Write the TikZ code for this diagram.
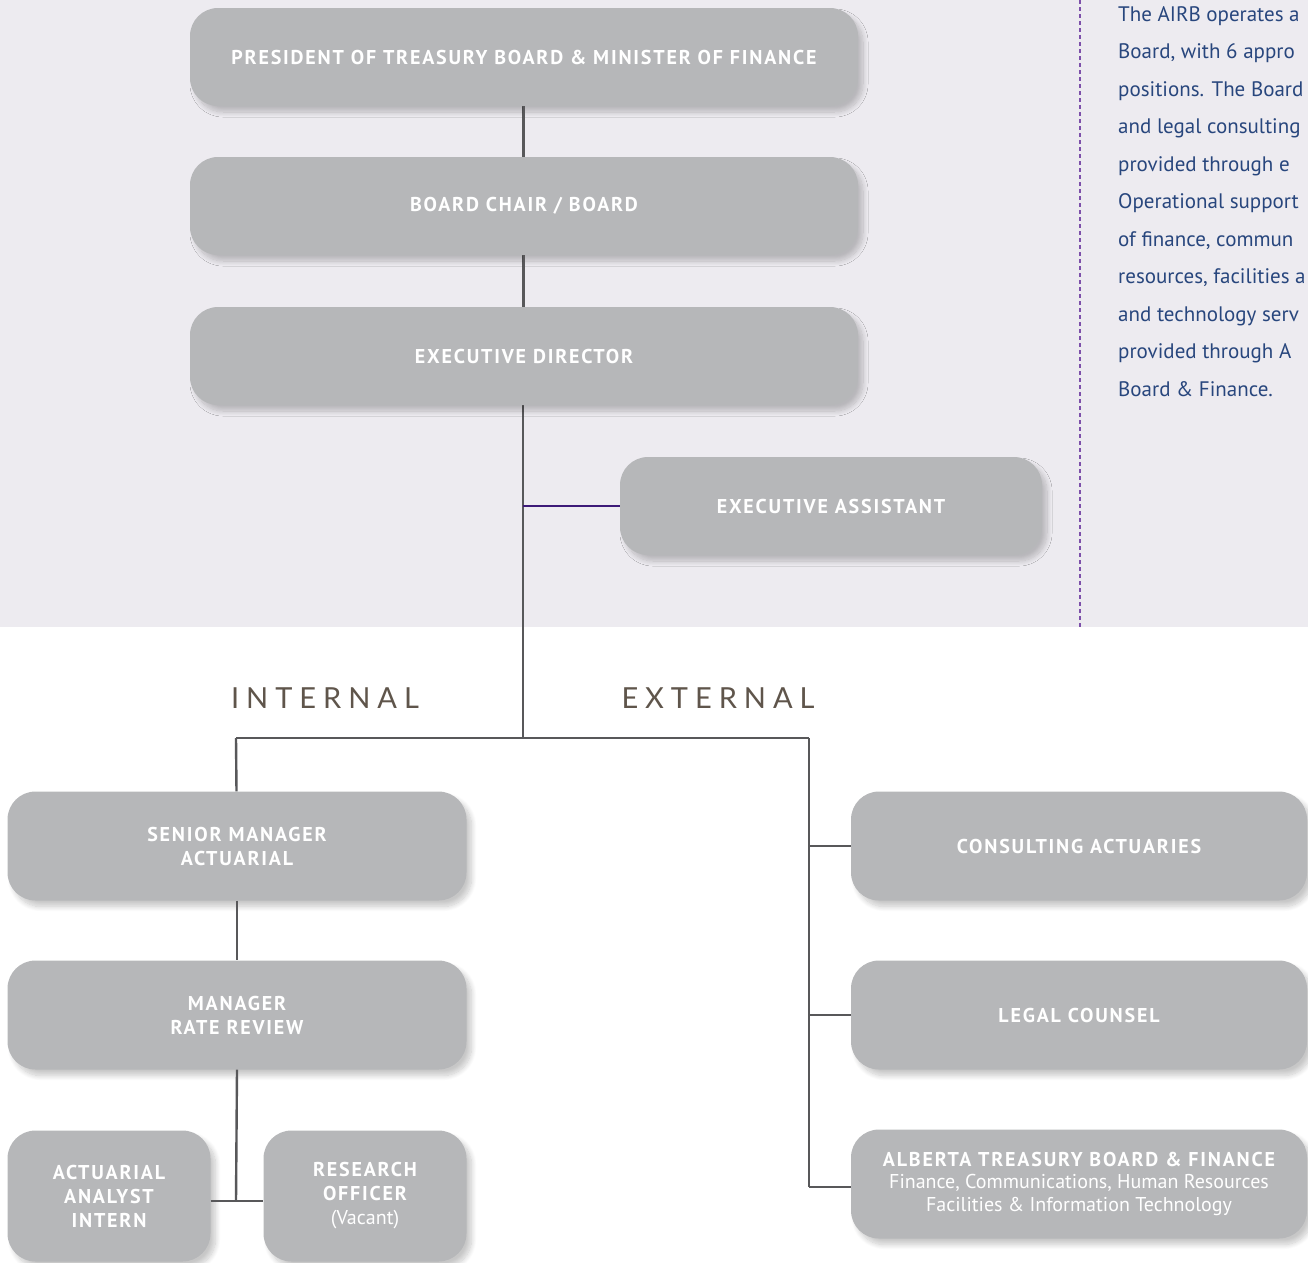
\documentclass[tikz,border=0pt]{standalone}
\usepackage{fontspec}
\setmainfont{PT Sans}
\newfontfamily\capsfont[LetterSpace=9]{PT Sans}
\newfontfamily\sidefont[LetterSpace=24]{Lato}
\usetikzlibrary{shadows.blur}

\definecolor{bandgray}{RGB}{237,235,240}
\definecolor{boxgray}{RGB}{182,183,185}
\definecolor{linegray}{RGB}{88,88,90}
\definecolor{deeppurple}{RGB}{61,26,120}
\definecolor{dashpurple}{RGB}{125,80,170}
\definecolor{noteblue}{RGB}{40,70,125}
\definecolor{sidebrown}{RGB}{95,85,75}

\newcommand{\subtext}{\normalfont\fontsize{20}{24}\selectfont}

\tikzset{
  orgbox/.style={rectangle,rounded corners=28pt,fill=boxgray,text=white,
    align=center,inner sep=0pt,
    font=\capsfont\bfseries\fontsize{20}{24}\selectfont,
    blur shadow={shadow xshift=5pt,shadow yshift=-6pt,shadow opacity=22,
                 shadow blur radius=5pt,shadow blur steps=12}},
  wide/.style={orgbox,minimum width=668pt,minimum height=98pt},
  half/.style={orgbox,minimum width=459pt,minimum height=109pt},
  small/.style={orgbox,minimum width=203pt,minimum height=131pt},
  link/.style={draw=linegray,line width=2.4pt},
  sidelabel/.style={text=sidebrown,font=\sidefont\fontsize{29}{30}\selectfont}
}

\begin{document}
\begin{tikzpicture}[x=1pt,y=-1pt]
	\useasboundingbox (0,0) rectangle (1308,1262);
	\fill[bandgray] (0,0) rectangle (1308,627);
	\draw[dashpurple,line width=1.3pt,dash pattern=on 4pt off 3pt] (1080,0) -- (1080,627);
	
	\node[anchor=north west,inner sep=0pt,align=left,text=noteblue,
	      font=\fontsize{21}{37.5}\selectfont] (note) at (1118,6)
	{The AIRB operates a\\ Board, with 6 appro\\ positions. The Board\\
	 and legal consulting\\ provided through e\\ Operational support\\
	 of finance, commun\\ resources, facilities a\\ and technology serv\\
	 provided through A\\ Board \& Finance.};
	
	% coordinates for the trunk
	\coordinate (split)  at (523,738);
	\coordinate (inleft) at (236,738);
	\coordinate (exright) at (809,738);
	\coordinate (eajoin) at (523,506);
	\coordinate (lowjoin) at (236,1201);
	
	\draw[link] (523,106) -- (split);
	\draw[link] (inleft) -- (exright);
	
	\node[wide]	(pres) at (524, 57)   {PRESIDENT OF TREASURY BOARD \& MINISTER OF FINANCE};
	\node[wide]	(board) at (524, 206)  {BOARD CHAIR / BOARD};
	\node[wide]	(exdir) at (524, 356)  {EXECUTIVE DIRECTOR};
	\node[orgbox,minimum width=422pt,minimum height=98pt]
	            (exasst) at (831, 506) {EXECUTIVE ASSISTANT};
	
	\node[sidelabel] (internal) at (325, 698) {INTERNAL};
	\node[sidelabel] (external) at (718, 698) {EXTERNAL};
	
	\node[half]	(senior) at (237, 846)  {SENIOR MANAGER\\ ACTUARIAL};
	\node[half]	(manager) at (237, 1015) {MANAGER\\ RATE REVIEW};
	\node[small]	(intern) at (109, 1196) {ACTUARIAL\\ ANALYST\\ INTERN};
	\node[small]	(research) at (365, 1196) {RESEARCH\\ OFFICER\\ {\subtext (Vacant)}};
	
	\node[half,minimum width=456pt]	(consult) at (1079, 846)  {CONSULTING ACTUARIES};
	\node[half,minimum width=456pt]	(legal) at (1079, 1015) {LEGAL COUNSEL};
	\node[half,minimum width=456pt]	(alberta) at (1079, 1184)
	  {ALBERTA TREASURY BOARD \& FINANCE\\[-2pt]
	   {\subtext Finance, Communications, Human Resources}\\[-1pt]
	   {\subtext Facilities \& Information Technology}};
	
	\draw[link] (pres) -- (board);
	\draw[link] (board) -- (exdir);
	\draw[deeppurple,line width=2.4pt] (eajoin) -- (exasst.west);
	
	\draw[link] (inleft) -- (senior);
	\draw[link] (senior) -- (manager);
	\draw[link] (manager.south) -- (lowjoin);
	\draw[link] (intern.east |- lowjoin) -- (research.west |- lowjoin);
	
	\draw[link] (exright) -- (809,1187);
	\draw[link] (exright |- consult) -- (consult.west);
	\draw[link] (exright |- legal) -- (legal.west);
	\draw[link] (809,1187) -- (alberta.west |- 809,1187);
\end{tikzpicture}
\end{document}
